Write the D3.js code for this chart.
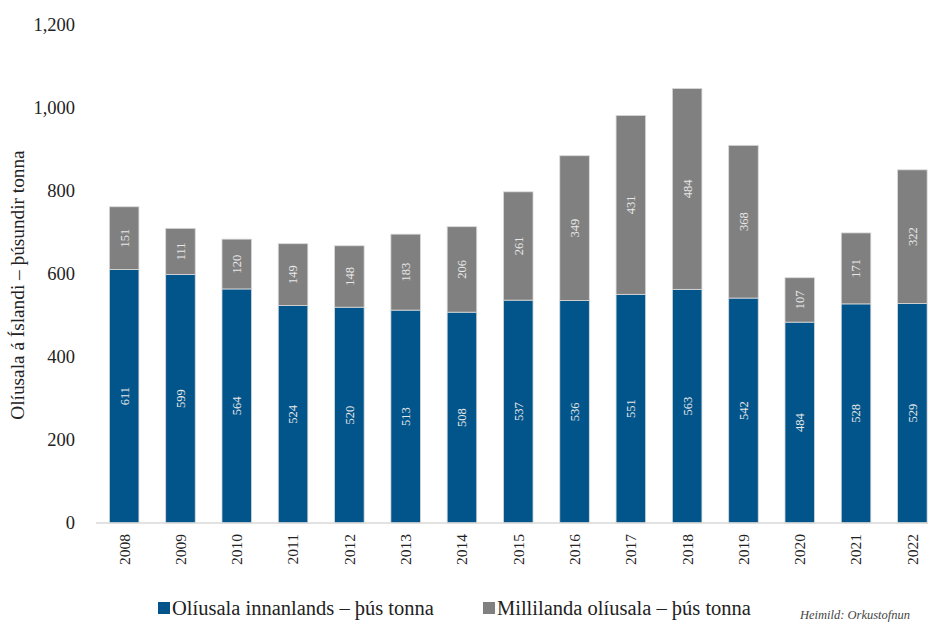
<!DOCTYPE html>
<html>
<head>
<meta charset="utf-8">
<script src="https://cdn.jsdelivr.net/npm/d3@7"></script>
<style>
  body { margin: 0; background: #fff; }
  svg { display: block; font-family: "Palatino Linotype", "Book Antiqua", "Liberation Serif", serif; }
</style>
</head>
<body>
<svg id="chart"></svg>
<script>
const years = ["2008","2009","2010","2011","2012","2013","2014","2015","2016","2017","2018","2019","2020","2021","2022"];
const domestic = [611, 599, 564, 524, 520, 513, 508, 537, 536, 551, 563, 542, 484, 528, 529];
const international = [151, 111, 120, 149, 148, 183, 206, 261, 349, 431, 484, 368, 107, 171, 322];
const yTicks = [0, 200, 400, 600, 800, 1000, 1200];
const seriesNames = ["Olíusala innanlands – þús tonna", "Millilanda olíusala – þús tonna"];

function makeChart() {
    let w = 928;
    let h = 622;
    let colors = ["#02558b", "#808080"];

    let svg = d3.select("#chart")
        .attr("width", w)
        .attr("height", h);

    let x = d3.scaleBand()
        .domain(years)
        .range([96, 96 + 56.3 * years.length])
        .paddingInner(0.475)
        .paddingOuter(0.2375);

    let y = d3.scaleLinear()
        .domain([0, 1200])
        .range([523, 25]);

    let rows = years.map((yr, i) => ({ year: yr, d: domestic[i], m: international[i] }));
    let stacked = d3.stack().keys(["d", "m"])(rows);

    // y tick labels
    svg.selectAll(".ytick")
        .data(yTicks)
        .enter()
        .append("text")
        .attr("x", 75)
        .attr("y", d => y(d))
        .attr("dy", "0.35em")
        .attr("text-anchor", "end")
        .attr("font-size", "18.5px")
        .attr("fill", "#222")
        .text(d => d3.format(",")(d));

    // y axis title
    svg.append("text")
        .attr("transform", "translate(24,285) rotate(-90)")
        .attr("text-anchor", "middle")
        .attr("font-size", "19.3px")
        .attr("fill", "#222")
        .text("Olíusala á Íslandi – þúsundir tonna");

    // bars
    let groups = svg.selectAll(".series")
        .data(stacked)
        .enter()
        .append("g")
        .attr("fill", (d, i) => colors[i]);

    groups.selectAll("rect")
        .data(d => d)
        .enter()
        .append("rect")
        .attr("x", d => x(d.data.year))
        .attr("y", d => y(d[1]))
        .attr("width", x.bandwidth())
        .attr("height", d => y(d[0]) - y(d[1]))
        .attr("stroke", "#d9d9d9")
        .attr("stroke-width", 0.8);

    // value labels
    groups.selectAll("text")
        .data(d => d)
        .enter()
        .append("text")
        .attr("transform", d => {
            let cx = x(d.data.year) + x.bandwidth() / 2;
            let cy = (y(d[0]) + y(d[1])) / 2;
            return "translate(" + cx + "," + cy + ") rotate(-90)";
        })
        .attr("text-anchor", "middle")
        .attr("dy", "0.35em")
        .attr("font-size", "12.5px")
        .attr("fill", "#e8e8e8")
        .text(d => d[1] - d[0]);

    // baseline
    svg.append("line")
        .attr("x1", 96)
        .attr("x2", w)
        .attr("y1", y(0))
        .attr("y2", y(0))
        .attr("stroke", "#d9d9d9")
        .attr("stroke-width", 1.5);

    // year labels
    svg.selectAll(".year")
        .data(years)
        .enter()
        .append("text")
        .attr("transform", d => "translate(" + (x(d) + x.bandwidth() / 2) + ",534) rotate(-90)")
        .attr("text-anchor", "end")
        .attr("dy", "0.35em")
        .attr("font-size", "15.5px")
        .attr("fill", "#222")
        .text(d => d);

    // legend
    let legX = [158, 483];
    let leg = svg.selectAll(".legend")
        .data(seriesNames)
        .enter()
        .append("g")
        .attr("transform", (d, i) => "translate(" + legX[i] + ",602)");

    leg.append("rect")
        .attr("width", 12)
        .attr("height", 12)
        .attr("fill", (d, i) => colors[i]);

    leg.append("text")
        .attr("x", 14)
        .attr("y", 13)
        .attr("font-size", "20.5px")
        .attr("fill", "#222")
        .text(d => d);

    svg.append("text")
        .attr("x", 800)
        .attr("y", 619)
        .attr("font-size", "12.5px")
        .attr("font-style", "italic")
        .attr("fill", "#444")
        .text("Heimild: Orkustofnun");
}

window.onload = function() {
    makeChart();
}
</script>
</body>
</html>
